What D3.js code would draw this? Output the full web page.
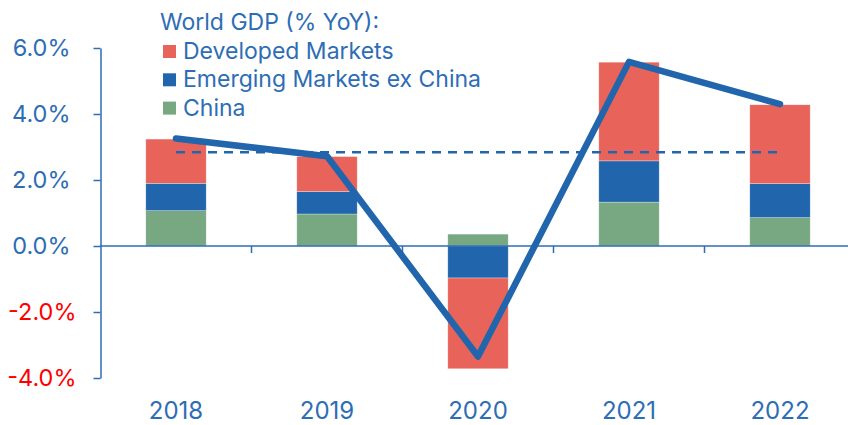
<!DOCTYPE html>
<head>
  <meta charset="utf-8">
  <script src="https://d3js.org/d3.v7.min.js"></script>
  <style>
    body { margin: 0; background: #fff; }
    svg { display: block; font-family: Inter, "Noto Sans", sans-serif; }
  </style>
</head>
<body>
  <svg width="848" height="425"></svg>
  <script>
    // values (% YoY)
    var years = ['2018', '2019', '2020', '2021', '2022'];
    var china = [1.07, 0.97, 0.36, 1.33, 0.86];
    var emExChina = [0.83, 0.68, -0.97, 1.25, 1.03];
    var developed = [1.34, 1.06, -2.75, 2.99, 2.39];
    var worldGdp = [3.26, 2.72, -3.35, 5.58, 4.30];
    var longRunAvg = 2.84;
    var yTicks = [-4, -2, 0, 2, 4, 6];
    var legendTitle = 'World GDP (% YoY):';
    var seriesNames = ['Developed Markets', 'Emerging Markets ex China', 'China'];

    var blue = '#2166ac';
    var textBlue = '#2d6db5';
    var colors = {china: '#78a882', em: '#2166ac', dm: '#e8645a'};

    var svg = d3.select('svg');

    var x = d3.scaleBand()
      .domain(years)
      .range([100.5, 855.5])
      .paddingInner(0.6)
      .paddingOuter(0.3);

    var y = d3.scaleLinear()
      .domain([-4, 6])
      .range([378, 48]);

    // table for the stack
    var table = years.map((yr, i) => ({year: yr, china: china[i], em: emExChina[i], dm: developed[i]}));
    var stack = d3.stack()
      .keys(['china', 'em', 'dm'])
      .offset(d3.stackOffsetDiverging);
    var layers = stack(table);

    svg.append('g')
      .selectAll('g')
      .data(layers)
      .join('g')
        .attr('fill', d => colors[d.key])
      .selectAll('rect')
      .data(d => d)
      .join('rect')
        .attr('x', d => x(d.data.year))
        .attr('width', x.bandwidth())
        .attr('y', d => y(d[1]))
        .attr('height', d => y(d[0]) - y(d[1]))
        .attr('stroke', '#fff')
        .attr('stroke-opacity', 0.5)
        .attr('stroke-width', 0.6);

    // x axis line + boundary ticks
    var xAxisG = svg.append('g');
    xAxisG.append('line')
      .attr('x1', 100).attr('x2', 848)
      .attr('y1', y(0)).attr('y2', y(0))
      .attr('stroke', textBlue).attr('stroke-width', 1.5);
    xAxisG.selectAll('.bound')
      .data(years.slice(0, -1))
      .join('line')
        .attr('class', 'bound')
        .attr('x1', d => x(d) + x.bandwidth() + (x.step() - x.bandwidth()) / 2)
        .attr('x2', d => x(d) + x.bandwidth() + (x.step() - x.bandwidth()) / 2)
        .attr('y1', y(0)).attr('y2', y(0) + 7)
        .attr('stroke', textBlue).attr('stroke-width', 1.5);

    // year labels
    var xLabels = d3.axisBottom(x).tickSize(0).tickPadding(156);
    svg.append('g')
      .attr('transform', 'translate(0,' + y(0) + ')')
      .call(xLabels)
      .call(g => g.select('.domain').remove())
      .selectAll('text')
        .attr('font-size', 24)
        .attr('font-family', 'Inter, "Noto Sans", sans-serif')
        .attr('fill', textBlue);

    // y axis (plain hyphen for negatives, like the original)
    var yAxis = d3.axisLeft(y)
      .tickValues(yTicks)
      .tickSizeInner(7)
      .tickSizeOuter(0)
      .tickFormat(d => d.toFixed(1) + '%');
    var yG = svg.append('g')
      .attr('transform', 'translate(100.5,0)')
      .call(yAxis);
    yG.select('.domain').attr('stroke', textBlue).attr('stroke-width', 1.5);
    yG.selectAll('.tick line').attr('stroke', textBlue).attr('stroke-width', 1.5);
    yG.selectAll('.tick text')
      .attr('font-size', 23.5)
      .attr('font-family', 'Inter, "Noto Sans", sans-serif')
      .attr('x', d => d < 0 ? -24 : -30)
      .attr('fill', d => d < 0 ? '#ff0000' : textBlue);

    // long-run average dashed line
    svg.append('line')
      .attr('x1', x(years[0]) + x.bandwidth() / 2)
      .attr('x2', x(years[years.length - 1]) + x.bandwidth() / 2)
      .attr('y1', y(longRunAvg)).attr('y2', y(longRunAvg))
      .attr('stroke', blue)
      .attr('stroke-width', 2.5)
      .attr('stroke-dasharray', '9 7');

    // world GDP line
    var line = d3.line()
      .x((d, i) => x(years[i]) + x.bandwidth() / 2)
      .y(d => y(d));
    svg.append('path')
      .attr('d', line(worldGdp))
      .attr('fill', 'none')
      .attr('stroke', blue)
      .attr('stroke-width', 6.5)
      .attr('stroke-linecap', 'round')
      .attr('stroke-linejoin', 'round');

    // legend
    var legend = svg.append('g').attr('font-size', 23).attr('fill', textBlue);
    legend.append('text')
      .attr('x', 160)
      .attr('y', 30)
      .text(legendTitle);
    var legendColors = [colors.dm, colors.em, colors.china];
    var rows = legend.selectAll('.row')
      .data(seriesNames)
      .join('g')
        .attr('class', 'row')
        .attr('transform', (d, i) => 'translate(0,' + (59 + i * 28.3) + ')');
    rows.append('rect')
      .attr('x', 163).attr('y', -14)
      .attr('width', 13).attr('height', 13)
      .attr('fill', (d, i) => legendColors[i]);
    rows.append('text')
      .attr('x', 183)
      .text(d => d);
  </script>
</body>
